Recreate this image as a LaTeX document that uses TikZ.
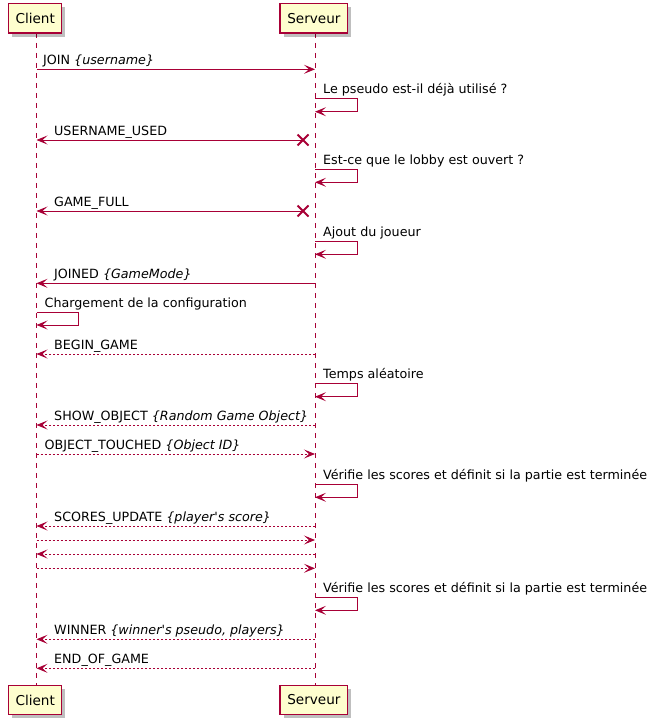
\documentclass[tikz,border=0pt]{standalone}
\usepackage{fontspec}
\setmainfont{DejaVu Sans}[Ligatures=TeXOff]
\usetikzlibrary{arrows.meta,shadows}
\definecolor{pu}{HTML}{A80036}
\definecolor{pf}{HTML}{FEFECE}
\tikzset{
  part/.style={draw=pu, fill=pf, line width=1.2pt, minimum height=29.7pt, inner sep=0pt,
    font=\fontsize{13.6}{15}\selectfont,
    drop shadow={shadow xshift=3.5pt, shadow yshift=-3.5pt, fill=black, opacity=0.25}},
  life/.style={draw=pu, line width=0.9pt, dash pattern=on 5pt off 5pt},
  msg/.style={draw=pu, line width=0.9pt, -{Stealth[length=11pt,width=9pt,inset=5pt]}},
  dmsg/.style={msg, dash pattern=on 2pt off 2pt},
  xmark/.style={draw=pu, line width=1.8pt},
  lbl/.style={anchor=base west, inner sep=0pt, font=\fontsize{12.7}{14}\selectfont}
}
\begin{document}
\begin{tikzpicture}[x=1pt,y=-1pt]
\useasboundingbox (0,0) rectangle (657,725);
\def\cx{36.5}
\def\sx{315}
% lifelines
\coordinate (cl1) at (\cx,33);
\coordinate (cl2) at (\cx,685);
\coordinate (sl1) at (\sx,33);
\coordinate (sl2) at (\sx,685);
\draw[life] (cl1) -- (cl2);
\draw[life] (sl1) -- (sl2);
% participants
\node[part, minimum width=53pt] (ct) at (35.2,18.2) {Client};
\node[part, minimum width=67.7pt] (st) at (313.9,18.2) {Serveur};
\node[part, minimum width=53pt] (cb) at (35.2,700) {Client};
\node[part, minimum width=67.7pt] (sb) at (313.9,700) {Serveur};

% JOIN
\draw[msg] (\cx,69.3) -- (\sx,69.3);
\node[lbl] (l1) at (43,64.3) {JOIN \textit{\{username\}}};
% self 1
\draw[msg] (\sx,98.3) -- (357.7,98.3) -- (357.7,111.7) -- (\sx,111.7);
\node[lbl] (l2) at (323,93.3) {Le pseudo est-il déjà utilisé ?};
% USERNAME_USED
\draw[msg] (303,140) -- (\cx,140);
\draw[xmark] (297.5,134.5) -- (308.5,145.5) (297.5,145.5) -- (308.5,134.5);
\node[lbl] (l3) at (54,135) {USERNAME\_USED};
% self 2
\draw[msg] (\sx,169.3) -- (357.7,169.3) -- (357.7,182.3) -- (\sx,182.3);
\node[lbl] (l4) at (323,164.3) {Est-ce que le lobby est ouvert ?};
% GAME_FULL
\draw[msg] (303,211) -- (\cx,211);
\draw[xmark] (297.5,205.5) -- (308.5,216.5) (297.5,216.5) -- (308.5,205.5);
\node[lbl] (l5) at (54,206) {GAME\_FULL};
% self 3
\draw[msg] (\sx,241) -- (357.7,241) -- (357.7,254.3) -- (\sx,254.3);
\node[lbl] (l6) at (323,236) {Ajout du joueur};
% JOINED
\draw[msg] (\sx,283.3) -- (\cx,283.3);
\node[lbl] (l7) at (54,278.3) {JOINED \textit{\{GameMode\}}};
% client self
\draw[msg] (\cx,312.3) -- (78.3,312.3) -- (78.3,325) -- (\cx,325);
\node[lbl] (l8) at (44.5,307.3) {Chargement de la configuration};
% BEGIN_GAME
\draw[dmsg] (\sx,354) -- (\cx,354);
\node[lbl] (l9) at (54,349) {BEGIN\_GAME};
% self 4
\draw[msg] (\sx,383.3) -- (357.7,383.3) -- (357.7,396.7) -- (\sx,396.7);
\node[lbl] (l10) at (323,378.3) {Temps aléatoire};
% SHOW_OBJECT
\draw[dmsg] (\sx,425) -- (\cx,425);
\node[lbl] (l11) at (54,420) {SHOW\_OBJECT \textit{\{Random Game Object\}}};
% OBJECT_TOUCHED
\draw[dmsg] (\cx,454) -- (\sx,454);
\node[lbl] (l12) at (44.5,449) {OBJECT\_TOUCHED \textit{\{Object ID\}}};
% self 5
\draw[msg] (\sx,484) -- (357.7,484) -- (357.7,497.3) -- (\sx,497.3);
\node[lbl] (l13) at (323,479) {Vérifie les scores et définit si la partie est terminée};
% SCORES_UPDATE
\draw[dmsg] (\sx,526) -- (\cx,526);
\node[lbl] (l14) at (54,521) {SCORES\_UPDATE \textit{\{player's score\}}};
% unlabeled
\draw[dmsg] (\cx,540) -- (\sx,540);
\draw[dmsg] (\sx,554) -- (\cx,554);
\draw[dmsg] (\cx,568.3) -- (\sx,568.3);
% self 6
\draw[msg] (\sx,597.7) -- (357.7,597.7) -- (357.7,610.3) -- (\sx,610.3);
\node[lbl] (l15) at (323,592.7) {Vérifie les scores et définit si la partie est terminée};
% WINNER
\draw[dmsg] (\sx,639.3) -- (\cx,639.3);
\node[lbl] (l16) at (54,634.3) {WINNER \textit{\{winner's pseudo, players\}}};
% END_OF_GAME
\draw[dmsg] (\sx,668.3) -- (\cx,668.3);
\node[lbl] (l17) at (54,663.3) {END\_OF\_GAME};
\end{tikzpicture}
\end{document}
